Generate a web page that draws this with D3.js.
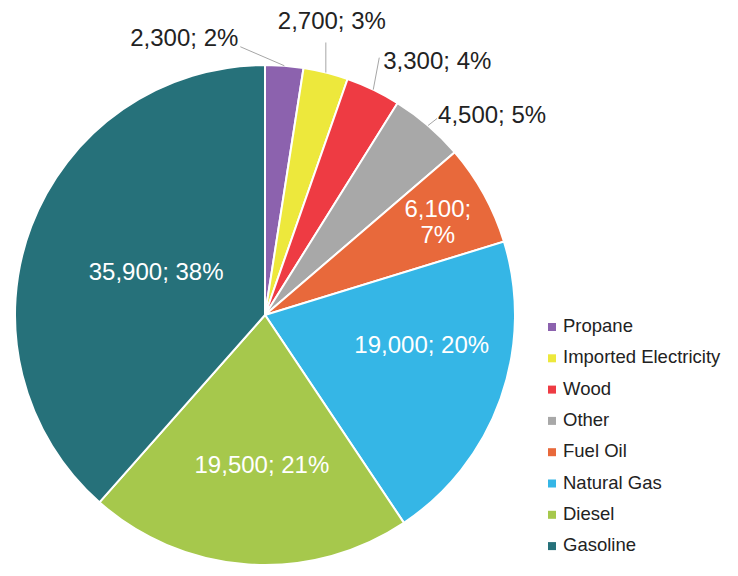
<!DOCTYPE html>
<html>
<head>
<meta charset="utf-8">
<script src="https://cdn.jsdelivr.net/npm/d3@7"></script>
<style>
  body { margin: 0; background: #fff; }
  text { font-family: "Liberation Sans", Arial, sans-serif; }
</style>
</head>
<body>
<script>
// data
var categories = ["Propane", "Imported Electricity", "Wood", "Other", "Fuel Oil", "Natural Gas", "Diesel", "Gasoline"];
var values = [2300, 2700, 3300, 4500, 6100, 19000, 19500, 35900];
var percents = [2, 3, 4, 5, 7, 20, 21, 38];
var colors = ["#8c62ae", "#ede83c", "#ee3b43", "#a8a8a8", "#e8693b", "#35b6e6", "#a6c84c", "#26717a"];

var width = 738, height = 576;
var cx = 265, cy = 315, radius = 250;

var svg = d3.select("body").append("svg")
    .attr("width", width)
    .attr("height", height);

var g = svg.append("g")
    .attr("transform", "translate(" + cx + "," + cy + ")");

var pie = d3.pie().sort(null).value(function(d) { return d; });
var arcs = pie(values);

var arc = d3.arc().innerRadius(0).outerRadius(radius);

g.selectAll(".slice")
  .data(arcs)
  .enter().append("path")
  .attr("class", "slice")
  .attr("d", arc)
  .attr("fill", function(d, i) { return colors[i]; })
  .attr("stroke", "#fff")
  .attr("stroke-width", 2);

var fmt = d3.format(",");
function labelText(i) { return fmt(values[i]) + "; " + percents[i] + "%"; }

// label placement: outside labels get a leader line from the rim
// inside: [radius fraction, dx, dy]
var inside = { 4: [0.78, 2, 12], 5: [0.64, 6, -24], 6: [0.6, 7, 0], 7: [0.47, 1, -1] };
// outside: leader end offset from rim point, text offset from rim point, anchor
var outside = {
  0: { lx: -44, ly: -19, tx: -46, ty: -20, anchor: "end" },
  1: { lx: 0, ly: -30, tx: 6, ty: -44, anchor: "middle" },
  2: { lx: 6, ly: -32, tx: 10, ty: -21, anchor: "start" },
  3: { lx: 9, ly: -7, tx: 10, ty: -3, anchor: "start" }
};

function rimPoint(d, r) {
  var a = (d.startAngle + d.endAngle) / 2;
  return [r * Math.sin(a), -r * Math.cos(a)];
}

arcs.forEach(function(d, i) {
  if (outside[i]) {
    var o = outside[i];
    var p = rimPoint(d, radius);
    g.append("line")
      .attr("x1", p[0]).attr("y1", p[1])
      .attr("x2", p[0] + o.lx).attr("y2", p[1] + o.ly)
      .attr("stroke", "#a6a6a6")
      .attr("stroke-width", 1);
    g.append("text")
      .attr("x", p[0] + o.tx)
      .attr("y", p[1] + o.ty)
      .attr("text-anchor", o.anchor)
      .attr("font-size", "24px")
      .attr("fill", "#222")
      .text(labelText(i));
  } else {
    var s = inside[i];
    var c = d3.arc().innerRadius(radius * s[0]).outerRadius(radius * s[0]).centroid(d);
    var t = g.append("text")
      .attr("text-anchor", "middle")
      .attr("font-size", "24px")
      .attr("fill", "#fff");
    if (i === 4) {
      t.append("tspan").attr("x", c[0] + s[1]).attr("y", c[1] + s[2] - 16).text(fmt(values[i]) + ";");
      t.append("tspan").attr("x", c[0] + s[1]).attr("y", c[1] + s[2] + 10).text(percents[i] + "%");
    } else {
      t.attr("x", c[0] + s[1]).attr("y", c[1] + s[2] + 8).text(labelText(i));
    }
  }
});

// legend
var legend = svg.append("g")
    .attr("transform", "translate(548,320)");

var rows = legend.selectAll(".row")
  .data(categories)
  .enter().append("g")
  .attr("class", "row")
  .attr("transform", function(d, i) { return "translate(0," + (i * 31.3) + ")"; });

rows.append("rect")
  .attr("x", 0).attr("y", 3)
  .attr("width", 8).attr("height", 8)
  .attr("fill", function(d, i) { return colors[i]; });

rows.append("text")
  .attr("x", 15)
  .attr("y", 12)
  .attr("font-size", "18.5px")
  .attr("fill", "#222")
  .text(function(d) { return d; });
</script>
</body>
</html>
